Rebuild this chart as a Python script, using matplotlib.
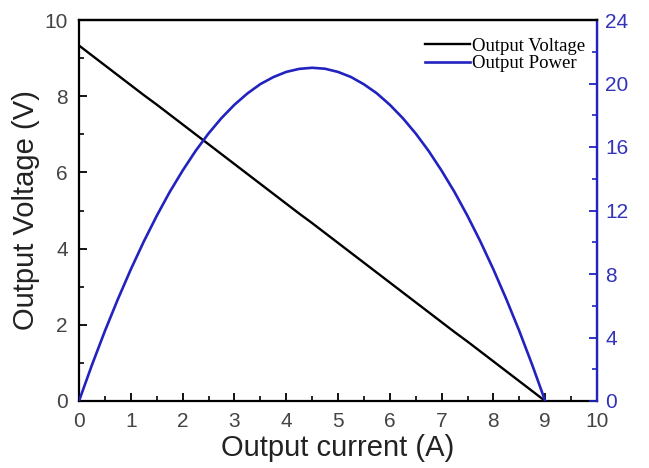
import matplotlib
matplotlib.use("Agg")
import matplotlib.pyplot as plt
from matplotlib.ticker import MultipleLocator

current = [0, 0.25, 0.5, 0.75, 1, 1.25, 1.5, 1.75, 2, 2.25, 2.5, 2.75, 3, 3.25, 3.5, 3.75,
           4, 4.25, 4.5, 4.75, 5, 5.25, 5.5, 5.75, 6, 6.25, 6.5, 6.75, 7, 7.25, 7.5, 7.75,
           8, 8.25, 8.5, 8.75, 9]
voltage = [9.33, 9.07, 8.81, 8.55, 8.29, 8.03, 7.78, 7.52, 7.26, 7.00, 6.74, 6.48, 6.22, 5.96,
           5.70, 5.44, 5.18, 4.92, 4.67, 4.41, 4.15, 3.89, 3.63, 3.37, 3.11, 2.85, 2.59, 2.33,
           2.07, 1.81, 1.56, 1.30, 1.04, 0.78, 0.52, 0.26, 0.0]
power = [0.0, 2.27, 4.41, 6.41, 8.29, 10.04, 11.66, 13.16, 14.51, 15.75, 16.85, 17.82, 18.66,
         19.37, 19.96, 20.40, 20.73, 20.92, 20.99, 20.93, 20.73, 20.41, 19.95, 19.38, 18.66,
         17.82, 16.85, 15.75, 14.51, 13.16, 11.66, 10.04, 8.29, 6.41, 4.41, 2.27, 0.0]

plt.rcParams['font.family'] = ['Liberation Sans', 'DejaVu Sans']

BLUE = '#2222c0'

fig = plt.figure(figsize=(6.49, 4.68), dpi=100)
ax = fig.add_axes([79/649, 1 - 401/468, (597-79)/649, (401-20)/468])
ax2 = ax.twinx()

l1, = ax.plot(current, voltage, color='black', lw=1.7, label='Output Voltage')
l2, = ax2.plot(current, power, color=BLUE, lw=1.9, label='Output Power')

ax.set_xlim(0, 10)
ax.set_ylim(0, 10)
ax2.set_ylim(0, 24)
ax.xaxis.set_major_locator(MultipleLocator(1))
ax.xaxis.set_minor_locator(MultipleLocator(0.5))
ax.yaxis.set_major_locator(MultipleLocator(2))
ax.yaxis.set_minor_locator(MultipleLocator(1))
ax2.yaxis.set_major_locator(MultipleLocator(4))
ax2.yaxis.set_minor_locator(MultipleLocator(2))

ax.tick_params(axis='both', which='major', direction='in', length=6, width=1.3,
               labelsize=15, colors='black', labelcolor='#444444')
ax.tick_params(axis='both', which='minor', direction='in', length=3.5, width=1.2)
ax.tick_params(axis='x', pad=8)
ax.tick_params(axis='y', pad=8)
ax2.tick_params(axis='y', which='major', direction='in', length=6, width=1.3,
                labelsize=15, colors=BLUE, labelcolor='#3333b8', pad=6)
ax2.tick_params(axis='y', which='minor', direction='in', length=3.5, width=1.2, colors=BLUE)

for s in ['left', 'bottom', 'top']:
    ax.spines[s].set_linewidth(1.6)
ax2.spines['right'].set_color(BLUE)
ax2.spines['right'].set_linewidth(1.7)
ax2.spines['left'].set_visible(False)
ax2.spines['top'].set_linewidth(1.6)
ax2.spines['bottom'].set_visible(False)

ax.set_xlabel('Output current (A)', fontsize=21, color='#222222', labelpad=2)
ax.set_ylabel('Output Voltage (V)', fontsize=21, color='#222222', labelpad=3)

ax.legend([l1, l2], ['Output Voltage', 'Output Power'], loc='upper right',
          bbox_to_anchor=(1.012, 1.0),
          frameon=False, prop={'family': 'Liberation Serif', 'size': 13.5},
          handlelength=2.4, handletextpad=0.1, borderaxespad=0.65, borderpad=0.3,
          labelspacing=0.0)

fig.savefig('out.png', dpi=100)
